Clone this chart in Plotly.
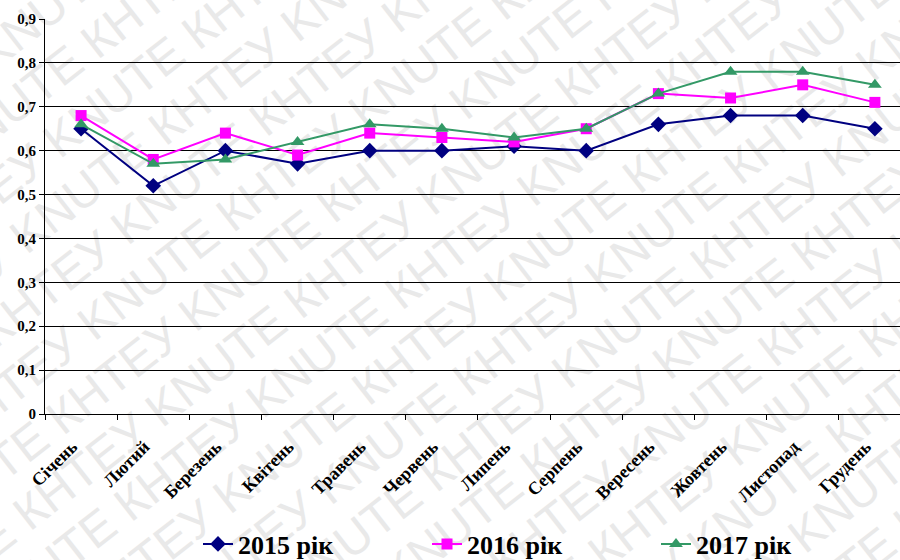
import base64
import plotly.graph_objects as go

months = ["Січень", "Лютий", "Березень", "Квітень", "Травень", "Червень",
          "Липень", "Серпень", "Вересень", "Жовтень", "Листопад", "Грудень"]
y2015 = [0.65, 0.52, 0.60, 0.57, 0.60, 0.60, 0.61, 0.60, 0.66, 0.68, 0.68, 0.65]
y2016 = [0.68, 0.58, 0.64, 0.59, 0.64, 0.63, 0.62, 0.65, 0.73, 0.72, 0.75, 0.71]
y2017 = [0.66, 0.57, 0.58, 0.62, 0.66, 0.65, 0.63, 0.65, 0.73, 0.78, 0.78, 0.75]
series_names = ["2015 рік", "2016 рік", "2017 рік"]
ytick_vals = [0, 0.1, 0.2, 0.3, 0.4, 0.5, 0.6, 0.7, 0.8, 0.9]
ytick_text = ["0", "0,1", "0,2", "0,3", "0,4", "0,5", "0,6", "0,7", "0,8", "0,9"]

W, H = 900, 560
ML, MR, MT, MB = 45, 0, 19, 146
pw, ph = W - ML - MR, H - MT - MB

# watermark background (SVG image behind the plot)
rows = []
for i in range(-16, 28):
    yy = i * 55
    off = (i % 2) * 85
    rows.append(f'<text x="{-900 + off}" y="{yy}">' + ("KNUTE КНТЕУ " * 14) + '</text>')
svg = ('<svg xmlns="http://www.w3.org/2000/svg" width="900" height="560">'
       '<g transform="rotate(-38 450 280)" font-family="Liberation Sans, DejaVu Sans" '
       'font-size="48" fill="#e9e9e9" xml:space="preserve">' + "".join(rows) + '</g></svg>')
src = "data:image/svg+xml;base64," + base64.b64encode(svg.encode("utf-8")).decode()

fig = go.Figure()
fig.add_trace(go.Scatter(x=months, y=y2015, name=series_names[0], mode="lines+markers",
                         line=dict(color="#000080", width=2),
                         marker=dict(symbol="diamond", size=12, color="#000080")))
fig.add_trace(go.Scatter(x=months, y=y2016, name=series_names[1], mode="lines+markers",
                         line=dict(color="#FF00FF", width=2),
                         marker=dict(symbol="square", size=11, color="#FF00FF")))
fig.add_trace(go.Scatter(x=months, y=y2017, name=series_names[2], mode="lines+markers",
                         line=dict(color="#339966", width=2),
                         marker=dict(symbol="triangle-up", size=12, color="#339966")))

serif = "Liberation Serif"
fig.update_layout(
    width=W, height=H,
    margin=dict(l=ML, r=MR, t=MT, b=MB, autoexpand=False),
    paper_bgcolor="white",
    plot_bgcolor="rgba(0,0,0,0)",
    font=dict(family=serif, color="black"),
    images=[dict(source=src, xref="paper", yref="paper",
                 x=-ML / pw, y=1 + MT / ph, sizex=W / pw, sizey=H / ph,
                 xanchor="left", yanchor="top", sizing="stretch", layer="below")],
    xaxis=dict(type="category", range=[-0.5, 11.348], showline=True, linecolor="black",
               linewidth=1, ticks="outside", tickson="boundaries", ticklen=5,
               tickcolor="black", showgrid=False, tickangle=-45,
               ticklabelstandoff=14, ticklabelshift=-9,
               tickfont=dict(family=serif, size=18, weight="bold", color="black")),
    yaxis=dict(range=[0, 0.9], tickvals=ytick_vals, ticktext=ytick_text,
               showline=True, linecolor="black", linewidth=1, ticks="outside",
               ticklen=5, tickcolor="black", showgrid=True, gridcolor="black",
               gridwidth=1, zeroline=False,
               tickfont=dict(family=serif, size=15, weight="bold", color="black")),
    legend=dict(orientation="h", x=(198 - ML) / pw, xanchor="left",
                y=-(544 - (MT + ph)) / ph, yanchor="middle",
                entrywidth=184, entrywidthmode="pixels",
                bgcolor="rgba(0,0,0,0)", tracegroupgap=0,
                font=dict(family=serif, size=26, weight="bold", color="black")),
    showlegend=True,
)

fig.write_html("out.html")
